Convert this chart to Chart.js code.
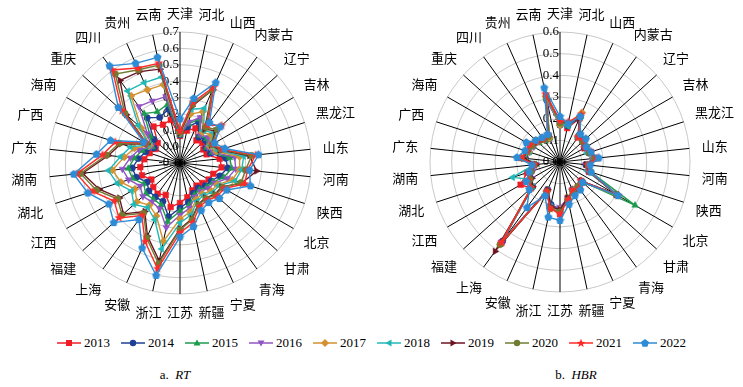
<!DOCTYPE html>
<html><head><meta charset="utf-8">
<script src="https://cdn.jsdelivr.net/npm/chart.js@4"></script>
<style>
html,body{margin:0;padding:0;background:#fff}
body{width:743px;height:387px;overflow:hidden;position:relative;font-family:"Liberation Serif","Times New Roman",serif}
#c1{position:absolute;left:0;top:0}
#c2{position:absolute;left:372px;top:0}
#legend{position:absolute;left:0;top:335px;width:743px;height:16px;display:flex;justify-content:center;align-items:center;font-family:"Liberation Serif",serif;font-size:13px;color:#000}
.item{display:flex;align-items:center;margin-right:11px}
.item:last-child{margin-right:0}
.item svg{margin-right:3px}
.item span{font-family:"Liberation Serif",serif}
.cap{position:absolute;top:367px;font-size:13px;line-height:16px;color:#000;transform:translateX(-50%);white-space:nowrap;font-family:"Liberation Serif",serif}
</style></head>
<body>
<canvas id="c1" width="360" height="330"></canvas>
<canvas id="c2" width="371" height="330"></canvas>
<div id="legend"></div>
<div class="cap" style="left:175px">a.&nbsp; <i>RT</i></div>
<div class="cap" style="left:576px">b.&nbsp; <i>HBR</i></div>
<script>
const provinces = ['天津','河北','山西','内蒙古','辽宁','吉林','黑龙江','山东','河南','陕西','北京','甘肃','青海','宁夏','新疆','江苏','浙江','安徽','上海','福建','江西','湖北','湖南','广东','广西','海南','重庆','四川','贵州','云南'];
const years = ['2013','2014','2015','2016','2017','2018','2019','2020','2021','2022'];

// RT values (panel a)
const rt2013 = [0.065,0.102,0.132,0.071,0.083,0.065,0.071,0.144,0.156,0.114,0.102,0.083,0.071,0.083,0.114,0.144,0.175,0.114,0.132,0.120,0.102,0.144,0.144,0.120,0.095,0.071,0.083,0.175,0.156,0.169];
const rt2014 = [0.071,0.126,0.175,0.095,0.108,0.083,0.095,0.181,0.193,0.156,0.120,0.108,0.089,0.102,0.144,0.175,0.236,0.156,0.156,0.156,0.132,0.181,0.193,0.156,0.120,0.083,0.114,0.242,0.205,0.236];
const rt2015 = [0.071,0.144,0.193,0.108,0.120,0.089,0.108,0.205,0.218,0.181,0.132,0.120,0.102,0.114,0.163,0.193,0.266,0.181,0.175,0.181,0.156,0.205,0.218,0.181,0.144,0.095,0.144,0.273,0.242,0.266];
const rt2016 = [0.077,0.156,0.205,0.114,0.132,0.095,0.114,0.236,0.242,0.205,0.144,0.132,0.114,0.126,0.181,0.218,0.303,0.205,0.193,0.205,0.181,0.230,0.254,0.205,0.163,0.102,0.169,0.327,0.315,0.315];
const rt2017 = [0.083,0.205,0.242,0.132,0.156,0.108,0.132,0.266,0.266,0.236,0.163,0.156,0.132,0.144,0.205,0.242,0.389,0.254,0.218,0.254,0.218,0.279,0.315,0.242,0.193,0.114,0.218,0.407,0.389,0.389];
const rt2018 = [0.089,0.236,0.266,0.144,0.175,0.114,0.144,0.291,0.279,0.254,0.175,0.169,0.144,0.156,0.224,0.266,0.437,0.279,0.236,0.279,0.242,0.303,0.340,0.266,0.218,0.120,0.242,0.444,0.437,0.437];
const rt2019 = [0.083,0.254,0.389,0.156,0.193,0.120,0.156,0.327,0.370,0.297,0.193,0.187,0.163,0.175,0.248,0.303,0.511,0.389,0.266,0.364,0.327,0.419,0.498,0.340,0.279,0.132,0.340,0.523,0.511,0.486];
const rt2020 = [0.089,0.266,0.389,0.169,0.205,0.126,0.163,0.340,0.303,0.291,0.199,0.193,0.169,0.181,0.254,0.309,0.529,0.401,0.279,0.376,0.340,0.437,0.511,0.352,0.291,0.138,0.352,0.572,0.523,0.511];
const rt2021 = [0.095,0.279,0.407,0.187,0.242,0.132,0.169,0.364,0.315,0.315,0.211,0.205,0.181,0.193,0.273,0.327,0.560,0.425,0.297,0.401,0.364,0.462,0.535,0.376,0.315,0.144,0.376,0.602,0.535,0.523];
const rt2022 = [0.169,0.303,0.437,0.205,0.230,0.144,0.187,0.382,0.327,0.352,0.230,0.224,0.199,0.218,0.297,0.352,0.602,0.468,0.327,0.444,0.401,0.492,0.553,0.413,0.346,0.156,0.407,0.633,0.566,0.560];

// HBR values (panel b)
const hbr2013 = [.18,.16,.22,.14,.15,.13,.15,.17,.13,.14,.30,.13,.14,.15,.17,.24,.21,.15,.46,.18,.21,.16,.12,.17,.16,.16,.14,.13,.13,.30];
const hbr2014 = [.17,.17,.22,.15,.14,.13,.14,.16,.12,.14,.30,.14,.15,.14,.18,.22,.20,.14,.45,.17,.16,.14,.12,.16,.15,.15,.14,.13,.12,.29];
const hbr2015 = [.18,.17,.23,.14,.15,.14,.14,.16,.13,.15,.40,.13,.14,.14,.17,.22,.21,.14,.47,.17,.16,.14,.11,.16,.15,.14,.13,.12,.12,.30];
const hbr2016 = [.18,.18,.22,.15,.14,.13,.15,.15,.12,.14,.30,.13,.15,.15,.17,.21,.21,.14,.46,.17,.15,.13,.11,.17,.16,.14,.14,.13,.13,.28];
const hbr2017 = [.17,.18,.25,.15,.16,.14,.14,.16,.13,.14,.31,.14,.14,.15,.18,.22,.22,.15,.47,.18,.16,.14,.12,.17,.15,.15,.14,.13,.12,.31];
const hbr2018 = [.18,.17,.23,.14,.15,.14,.13,.16,.13,.13,.30,.14,.15,.14,.18,.22,.21,.15,.46,.17,.16,.23,.12,.17,.15,.15,.14,.13,.13,.30];
const hbr2019 = [.19,.18,.22,.15,.15,.13,.14,.17,.12,.14,.30,.13,.15,.15,.17,.22,.21,.14,.51,.17,.15,.14,.11,.17,.16,.15,.14,.13,.13,.32];
const hbr2020 = [.18,.18,.23,.15,.14,.14,.14,.16,.13,.15,.30,.14,.14,.15,.18,.23,.22,.15,.47,.18,.16,.14,.12,.18,.16,.15,.15,.13,.13,.31];
const hbr2021 = [.19,.19,.24,.14,.15,.13,.15,.17,.13,.14,.31,.13,.15,.14,.18,.24,.22,.15,.46,.18,.17,.15,.12,.18,.16,.16,.14,.13,.14,.32];
const hbr2022 = [.21,.18,.23,.16,.16,.14,.15,.18,.14,.15,.31,.14,.16,.17,.20,.27,.26,.17,.26,.19,.18,.15,.13,.20,.17,.18,.15,.14,.14,.35];

const rtTicks = [-0.1,0,0.1,0.2,0.3,0.4,0.5,0.6,0.7];
const hbrTicks = [0,0.1,0.2,0.3,0.4,0.5,0.6];

const rtSeries = [rt2013,rt2014,rt2015,rt2016,rt2017,rt2018,rt2019,rt2020,rt2021,rt2022];
const hbrSeries = [hbr2013,hbr2014,hbr2015,hbr2016,hbr2017,hbr2018,hbr2019,hbr2020,hbr2021,hbr2022];

const colors = ['#ee1c25','#1f3f95','#1e9a4c','#9055c4','#d3912f','#22b7b7','#6b1420','#6f7c31','#ff2a2a','#2e8bd5'];
const markers = ['square','circle','tri-up','tri-down','diamond','tri-left','tri-right','circle','star','pentagon'];

function shapeCanvas(kind, color, size){
  const c=document.createElement('canvas'); c.width=c.height=size;
  const g=c.getContext('2d'); g.fillStyle=color; g.beginPath();
  const cx=size/2, cy=size/2, R=size/2-0.3;
  if(kind==='star'){ for(let k=0;k<10;k++){const r=k%2?R*0.45:R; const a=-Math.PI/2+k*Math.PI/5; g.lineTo(cx+r*Math.cos(a),cy+r*Math.sin(a));} }
  else { for(let k=0;k<5;k++){const a=-Math.PI/2+k*2*Math.PI/5; g.lineTo(cx+R*Math.cos(a),cy+R*Math.sin(a));} }
  g.closePath(); g.fill(); return c;
}
function pointStyleFor(i){
  const m=markers[i];
  switch(m){
    case 'square': return {style:'rect',rot:0,r:4};
    case 'circle': return {style:'circle',rot:0,r:3.2};
    case 'tri-up': return {style:'triangle',rot:0,r:3.8};
    case 'tri-down': return {style:'triangle',rot:180,r:3.8};
    case 'diamond': return {style:'rectRot',rot:0,r:3.8};
    case 'tri-left': return {style:'triangle',rot:270,r:3.8};
    case 'tri-right': return {style:'triangle',rot:90,r:3.8};
    case 'star': return {style:shapeCanvas('star',colors[i],10),rot:0,r:4};
    case 'pentagon': return {style:shapeCanvas('pentagon',colors[i],9),rot:0,r:4};
  }
}
function buildDatasets(series){
  return series.map((d,i)=>{const ps=pointStyleFor(i); return {
    label:years[i], data:d, borderColor:colors[i], backgroundColor:colors[i],
    pointBackgroundColor:colors[i], pointBorderColor:colors[i], pointStyle:ps.style,
    pointRotation:ps.rot, pointRadius:ps.r, pointBorderWidth:0.5, borderWidth:1.4, fill:false, order:9-i };});
}

const decor = {
  id:'decor',
  beforeDatasetsDraw(chart, args, opts){
    const s=chart.scales.r, ctx=chart.ctx;
    ctx.save(); ctx.font='13px "Liberation Serif", serif'; ctx.fillStyle='#000';
    ctx.textAlign='right'; ctx.textBaseline='middle';
    opts.ticks.forEach(v=>{
      const y=s.yCenter - s.getDistanceFromCenterForValue(v);
      ctx.fillText(v.toFixed(1), s.xCenter-1, y);
    });
    ctx.restore();
  },
  afterDraw(chart, args, opts){
    const s=chart.scales.r, ctx=chart.ctx, labels=chart.data.labels;
    ctx.save(); ctx.font='13px "Noto Sans CJK SC", sans-serif'; ctx.fillStyle='#000';
    ctx.textAlign='center'; ctx.textBaseline='middle';
    labels.forEach((lab,i)=>{
      const ang=i*2*Math.PI/labels.length;
      const w=ctx.measureText(lab).width, h=13;
      const d=s.drawingArea+opts.gap+Math.abs(Math.sin(ang))*w/2+Math.abs(Math.cos(ang))*h/2;
      const p=s.getPointPosition(i,d);
      ctx.fillText(lab,p.x,p.y);
    });
    ctx.restore();
  }
};

function makeChart(id, series, min, max, ticks, pad){
  return new Chart(document.getElementById(id), {
    type:'radar',
    data:{labels:provinces, datasets:buildDatasets(series)},
    options:{
      responsive:false, animation:false, devicePixelRatio:1,
      layout:{padding:pad},
      plugins:{legend:{display:false}, tooltip:{enabled:false}, decor:{ticks:ticks, gap:12}},
      scales:{r:{min:min, max:max, startAngle:0,
        ticks:{display:false, stepSize:0.1},
        grid:{circular:true, color:'#c8c8c8', lineWidth:1},
        angleLines:{display:true, color:'#000', lineWidth:1},
        pointLabels:{display:false}}},
      elements:{line:{tension:0}}
    },
    plugins:[decor]
  });
}

makeChart('c1', rtSeries, -0.1, 0.7, rtTicks, {left:49,right:49,top:32,bottom:36});
makeChart('c2', hbrSeries, 0, 0.6, hbrTicks, {left:58,right:53,top:32,bottom:38});

// legend
function markerSVG(i){
  const c=colors[i], m=markers[i];
  let s='';
  switch(m){
    case 'square': s=`<rect x="9" y="2" width="6" height="6" fill="${c}"/>`; break;
    case 'circle': s=`<circle cx="12" cy="5" r="3.2" fill="${c}"/>`; break;
    case 'tri-up': s=`<polygon points="12,1.5 15.5,7.5 8.5,7.5" fill="${c}"/>`; break;
    case 'tri-down': s=`<polygon points="12,8.5 15.5,2.5 8.5,2.5" fill="${c}"/>`; break;
    case 'diamond': s=`<polygon points="12,1 16,5 12,9 8,5" fill="${c}"/>`; break;
    case 'tri-left': s=`<polygon points="8.5,5 14.5,1.5 14.5,8.5" fill="${c}"/>`; break;
    case 'tri-right': s=`<polygon points="15.5,5 9.5,1.5 9.5,8.5" fill="${c}"/>`; break;
    case 'star': { let pts=[]; for(let k=0;k<10;k++){const r=k%2?2:4.6; const a=-Math.PI/2+k*Math.PI/5; pts.push((12+r*Math.cos(a)).toFixed(2)+','+(5.3+r*Math.sin(a)).toFixed(2));} s=`<polygon points="${pts.join(' ')}" fill="${c}"/>`; break; }
    case 'pentagon': { let pts=[]; for(let k=0;k<5;k++){const a=-Math.PI/2+k*2*Math.PI/5; pts.push((12+4.2*Math.cos(a)).toFixed(2)+','+(5.3+4.2*Math.sin(a)).toFixed(2));} s=`<polygon points="${pts.join(' ')}" fill="${c}"/>`; break; }
  }
  return `<svg width="24" height="10" viewBox="0 0 24 10"><line x1="0" y1="5" x2="24" y2="5" stroke="${c}" stroke-width="1.5"/>${s}</svg>`;
}
const lg=document.getElementById('legend');
years.forEach((y,i)=>{
  const d=document.createElement('div'); d.className='item';
  d.innerHTML=markerSVG(i)+'<span>'+y+'</span>';
  lg.appendChild(d);
});
</script>
</body></html>
